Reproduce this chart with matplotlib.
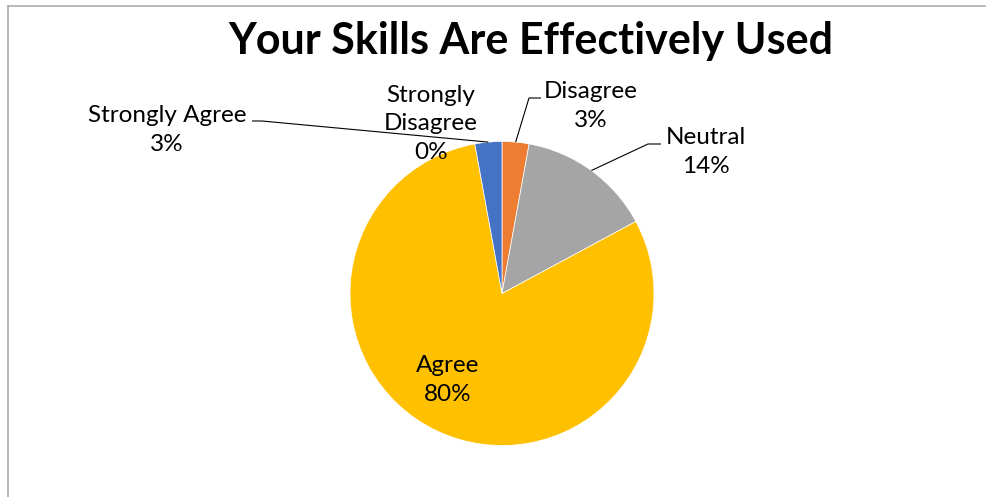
import numpy as np
import matplotlib.pyplot as plt
from matplotlib.lines import Line2D

# %%
categories = ["Strongly Disagree", "Disagree", "Neutral", "Agree", "Strongly Agree"]
counts = [0, 1, 5, 28, 1]
colors = ["#5B9BD5", "#ED7D31", "#A5A5A5", "#FFC000", "#4472C4"]
title = "Your Skills Are Effectively Used"

W, H = 986, 497
plt.rcParams["font.family"] = ["Lato", "DejaVu Sans"]

fig = plt.figure(figsize=(W / 100, H / 100), dpi=100)
ax = fig.add_axes([0, 0, 1, 1])


def py(y):
    # image-style y (from top) -> axes y
    return H - y


cx, cy, r = 502, py(293.5), 152
wedges, _ = ax.pie(
    counts,
    colors=colors,
    startangle=90,
    counterclock=False,
    center=(cx, cy),
    radius=r,
    wedgeprops=dict(edgecolor="white", linewidth=0.5),
    frame=True,
)
ax.set_xlim(0, W)
ax.set_ylim(0, H)
ax.set_aspect("equal")
ax.axis("off")

total = sum(counts)
pcts = [round(c / total * 100) for c in counts]


def edge_point(w):
    mid = np.deg2rad((w.theta1 + w.theta2) / 2)
    return cx + r * np.cos(mid), cy + r * np.sin(mid)


# label text positions (center) and leader elbows
label_pos = {
    "Strongly Disagree": (431, 124),
    "Disagree": (591, 106),
    "Neutral": (706, 152),
    "Agree": (448, 380),
    "Strongly Agree": (167, 130),
}
leaders = {
    "Strongly Agree": [(262, 121), (252, 121)],
    "Disagree": [(529, 98), (541, 98)],
    "Neutral": [(648, 144), (661, 144)],
}

for w, cat, p in zip(wedges, categories, pcts):
    x, y = label_pos[cat]
    txt = cat.replace("Strongly Disagree", "Strongly\nDisagree")
    ax.text(x, py(y), f"{txt}\n{p}%", ha="center", va="center",
            fontsize=17.5, linespacing=1.42, color="black")
    if cat in leaders:
        pts = [edge_point(w)] + [(lx, py(ly)) for lx, ly in leaders[cat]]
        xs, ys = zip(*pts)
        ax.plot(xs, ys, color="black", lw=0.8, solid_capstyle="butt")

fig.text(531 / W, 1 - 41 / H, title, ha="center", va="center",
         fontsize=31, fontweight="bold")

# chart area border (top and left edges)
border = dict(color="#ABABAB", lw=1.2, transform=fig.transFigure)
fig.add_artist(Line2D([8 / W, 985 / W], [1 - 5.5 / H] * 2, **border))
fig.add_artist(Line2D([8 / W] * 2, [1 - 5.5 / H, 0], **border))

fig.savefig("out.png", dpi=100)
